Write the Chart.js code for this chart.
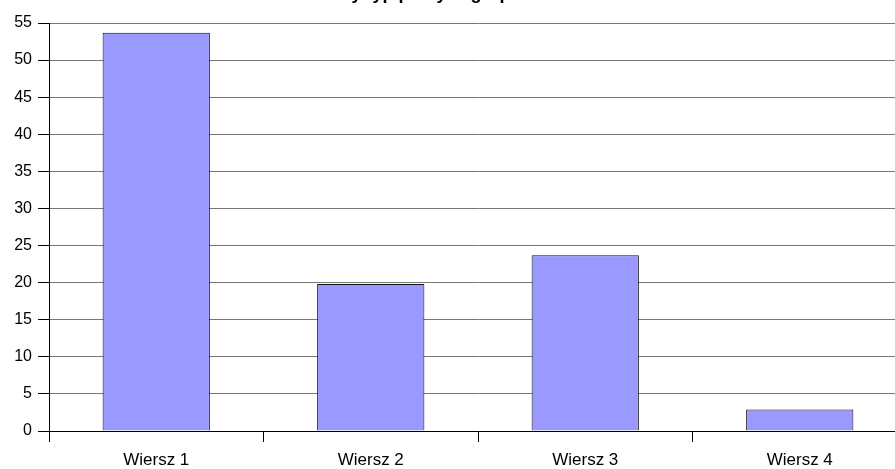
<!DOCTYPE html>
<html lang="pl">
<head>
  <meta charset="UTF-8" />
  <title>Wiersze</title>
  <script src="https://cdn.jsdelivr.net/npm/chart.js"></script>
  <style>
    * { margin: 0; padding: 0; box-sizing: border-box; }
    html, body { width: 895px; height: 469px; overflow: hidden; background: #fff; }
    /* plot runs a little past the right edge, like the cropped original */
    .wrap { position: absolute; left: 0; top: 0; width: 907px; height: 469px; }
  </style>
</head>
<body>
  <div class="wrap"><canvas id="barChart"></canvas></div>

  <script>
    const categories = ['Wiersz 1', 'Wiersz 2', 'Wiersz 3', 'Wiersz 4'];
    const values = [53.7, 19.8, 23.7, 2.9];
    const yTicks = [0, 5, 10, 15, 20, 25, 30, 35, 40, 45, 50, 55];
    const titleText = 'Ulubiony typ pracy w grupie';

    // title sits above the visible area, only descenders show
    const clippedTitle = {
      id: 'clippedTitle',
      afterDraw(chart) {
        const ctx = chart.ctx;
        ctx.save();
        ctx.font = 'bold 18px "Liberation Sans", Arial, sans-serif';
        ctx.fillStyle = '#000';
        ctx.textAlign = 'center';
        ctx.textBaseline = 'alphabetic';
        ctx.fillText(titleText, 405, -1);
        ctx.restore();
      }
    };

    new Chart(document.getElementById('barChart'), {
      type: 'bar',
      data: {
        labels: categories,
        datasets: [{
          data: values,
          backgroundColor: '#9999ff',
          borderColor: '#111',
          borderWidth: 1,
          borderSkipped: 'bottom',
          categoryPercentage: 1,
          barPercentage: 0.5
        }]
      },
      options: {
        responsive: true,
        maintainAspectRatio: false,
        animation: false,
        layout: { padding: { top: 23, left: 0, right: 0, bottom: 0 } },
        plugins: {
          legend: { display: false },
          tooltip: { enabled: false }
        },
        scales: {
          x: {
            afterFit: (s) => { s.height = 38; },
            grid: {
              drawOnChartArea: false,
              color: '#000',
              tickLength: 11,
              offset: true
            },
            border: { color: '#000', width: 1 },
            ticks: {
              color: '#000',
              padding: 8,
              font: { family: '"Liberation Sans", Arial, sans-serif', size: 17 }
            }
          },
          y: {
            min: 0,
            max: 55,
            afterFit: (s) => { s.width = 49; },
            afterBuildTicks: (s) => { s.ticks = yTicks.map(v => ({ value: v })); },
            grid: {
              color: '#777',
              tickColor: '#000',
              tickLength: 11
            },
            border: { color: '#000', width: 1 },
            ticks: {
              color: '#000',
              padding: 6,
              font: { family: '"Liberation Sans", Arial, sans-serif', size: 16 }
            }
          }
        }
      },
      plugins: [clippedTitle]
    });
  </script>
</body>
</html>
